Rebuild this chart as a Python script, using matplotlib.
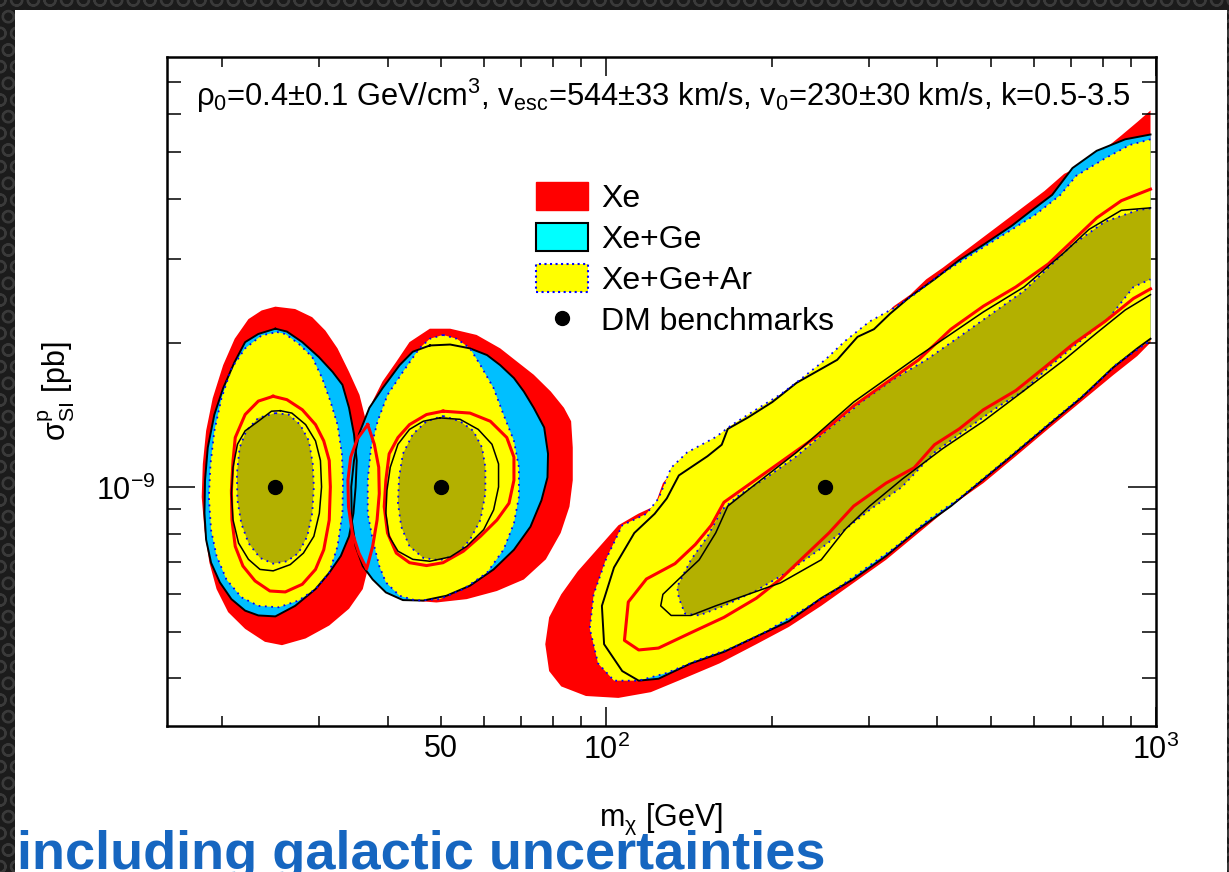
import numpy as np
import matplotlib
matplotlib.use("Agg")
import matplotlib.pyplot as plt
from matplotlib.patches import Patch, Rectangle
from matplotlib.lines import Line2D

plt.rcParams["font.family"] = ["Liberation Sans", "DejaVu Sans"]
plt.rcParams["mathtext.default"] = "regular"
plt.rcParams["hatch.linewidth"] = 1.5

# Contour vertices, as (log10 m / GeV, log10 sigma / pb).
# Benchmark 25 GeV
xe_out_25 = [(1.398, -8.623), (1.434, -8.628), (1.465, -8.645), (1.489, -8.673), (1.511, -8.710),
             (1.532, -8.759), (1.551, -8.807), (1.563, -8.862), (1.568, -8.930), (1.569, -9.020),
             (1.569, -9.109), (1.566, -9.171), (1.557, -9.212), (1.532, -9.253), (1.496, -9.288),
             (1.453, -9.315), (1.410, -9.329), (1.379, -9.322), (1.343, -9.295), (1.312, -9.260),
             (1.291, -9.212), (1.278, -9.157), (1.269, -9.089), (1.264, -9.020), (1.266, -8.951),
             (1.272, -8.882), (1.284, -8.814), (1.303, -8.745), (1.324, -8.690), (1.349, -8.649),
             (1.373, -8.631)]
xege_out_25 = [(1.398, -8.669), (1.419, -8.675), (1.447, -8.697), (1.477, -8.728), (1.502, -8.759),
               (1.520, -8.786), (1.532, -8.834), (1.541, -8.889), (1.546, -8.944), (1.544, -8.999),
               (1.540, -9.054), (1.532, -9.102), (1.517, -9.143), (1.496, -9.178), (1.471, -9.212),
               (1.434, -9.247), (1.398, -9.269), (1.367, -9.267), (1.343, -9.257), (1.318, -9.233),
               (1.297, -9.198), (1.281, -9.157), (1.272, -9.109), (1.269, -9.054), (1.270, -8.985),
               (1.275, -8.917), (1.287, -8.848), (1.303, -8.793), (1.324, -8.738), (1.343, -8.697),
               (1.367, -8.680)]
xegear_out_25 = [(1.401, -8.676), (1.416, -8.680), (1.440, -8.700), (1.465, -8.728), (1.483, -8.772),
                 (1.498, -8.820), (1.511, -8.869), (1.519, -8.930), (1.521, -8.985), (1.520, -9.054),
                 (1.511, -9.123), (1.496, -9.178), (1.471, -9.212), (1.440, -9.236), (1.404, -9.250),
                 (1.367, -9.247), (1.336, -9.229), (1.309, -9.192), (1.291, -9.143), (1.281, -9.089),
                 (1.277, -9.020), (1.280, -8.951), (1.287, -8.882), (1.300, -8.814), (1.318, -8.752),
                 (1.343, -8.710), (1.373, -8.683)]
xegear_in_25 = [(1.398, -8.845), (1.422, -8.848), (1.443, -8.869), (1.459, -8.903), (1.466, -8.951),
                (1.468, -8.999), (1.465, -9.054), (1.456, -9.102), (1.440, -9.137), (1.419, -9.154),
                (1.394, -9.159), (1.370, -9.147), (1.349, -9.116), (1.336, -9.075), (1.329, -9.027),
                (1.328, -8.972), (1.333, -8.917), (1.345, -8.882), (1.367, -8.855)]
xe_in_25 = [(1.394, -8.810), (1.419, -8.817), (1.447, -8.838), (1.471, -8.869), (1.486, -8.903),
            (1.496, -8.944), (1.498, -8.999), (1.496, -9.068), (1.486, -9.130), (1.471, -9.171),
            (1.447, -9.202), (1.416, -9.218), (1.388, -9.216), (1.361, -9.195), (1.339, -9.164),
            (1.325, -9.123), (1.319, -9.068), (1.318, -9.006), (1.321, -8.944), (1.325, -8.896),
            (1.343, -8.848), (1.367, -8.820)]
xege_in_25 = [(1.407, -8.840), (1.428, -8.845), (1.453, -8.869), (1.471, -8.903), (1.480, -8.944),
              (1.482, -8.999), (1.478, -9.054), (1.468, -9.102), (1.449, -9.137), (1.425, -9.161),
              (1.394, -9.174), (1.370, -9.171), (1.349, -9.150), (1.331, -9.116), (1.321, -9.068),
              (1.318, -9.013), (1.321, -8.958), (1.329, -8.910), (1.343, -8.882), (1.367, -8.862),
              (1.391, -8.841)]

# Benchmark 50 GeV
xe_out_50 = [(1.679, -8.669), (1.716, -8.669), (1.764, -8.682), (1.807, -8.710), (1.838, -8.738),
             (1.868, -8.765), (1.899, -8.800), (1.923, -8.834), (1.936, -8.862), (1.939, -8.917),
             (1.939, -8.985), (1.933, -9.040), (1.917, -9.095), (1.890, -9.150), (1.850, -9.192),
             (1.801, -9.216), (1.746, -9.233), (1.691, -9.240), (1.648, -9.236), (1.612, -9.226),
             (1.581, -9.198), (1.563, -9.171), (1.557, -9.123), (1.557, -9.054), (1.557, -8.985),
             (1.560, -8.917), (1.563, -8.862), (1.575, -8.820), (1.593, -8.779), (1.618, -8.738),
             (1.642, -8.697)]
xege_out_50 = [(1.679, -8.704), (1.716, -8.702), (1.752, -8.710), (1.783, -8.724), (1.807, -8.745),
               (1.832, -8.772), (1.850, -8.800), (1.868, -8.834), (1.887, -8.875), (1.894, -8.930),
               (1.893, -8.979), (1.882, -9.027), (1.862, -9.082), (1.832, -9.130), (1.795, -9.171),
               (1.752, -9.205), (1.709, -9.226), (1.667, -9.236), (1.630, -9.235), (1.599, -9.219),
               (1.575, -9.192), (1.557, -9.164), (1.544, -9.123), (1.537, -9.068), (1.536, -8.999),
               (1.541, -8.944), (1.550, -8.889), (1.569, -8.834), (1.593, -8.793), (1.624, -8.745),
               (1.648, -8.717)]
xegear_out_50 = [(1.703, -8.682), (1.728, -8.690), (1.752, -8.710), (1.771, -8.745), (1.795, -8.793),
                 (1.813, -8.848), (1.832, -8.903), (1.841, -8.958), (1.841, -9.020), (1.832, -9.075),
                 (1.813, -9.130), (1.783, -9.178), (1.740, -9.212), (1.697, -9.233), (1.654, -9.236),
                 (1.624, -9.226), (1.599, -9.198), (1.587, -9.164), (1.575, -9.109), (1.566, -9.054),
                 (1.566, -8.985), (1.572, -8.917), (1.584, -8.862), (1.602, -8.807), (1.630, -8.759),
                 (1.660, -8.710), (1.679, -8.690)]
xegear_in_50 = [(1.703, -8.851), (1.734, -8.862), (1.758, -8.882), (1.774, -8.917), (1.780, -8.958),
                (1.780, -9.013), (1.771, -9.068), (1.752, -9.109), (1.728, -9.140), (1.697, -9.152),
                (1.667, -9.147), (1.642, -9.123), (1.627, -9.082), (1.621, -9.033), (1.623, -8.979),
                (1.630, -8.930), (1.648, -8.889), (1.673, -8.862)]
xe_in_50 = [(1.703, -8.841), (1.752, -8.845), (1.789, -8.862), (1.819, -8.896), (1.832, -8.937),
            (1.832, -8.985), (1.823, -9.033), (1.801, -9.068), (1.771, -9.102), (1.740, -9.133),
            (1.703, -9.157), (1.673, -9.163), (1.642, -9.157), (1.618, -9.137), (1.602, -9.095),
            (1.596, -9.040), (1.599, -8.985), (1.605, -8.930), (1.621, -8.896), (1.642, -8.869),
            (1.673, -8.848)]
xege_in_50 = [(1.697, -8.855), (1.734, -8.858), (1.767, -8.879), (1.792, -8.910), (1.804, -8.951),
              (1.804, -8.999), (1.795, -9.047), (1.777, -9.088), (1.746, -9.123), (1.716, -9.145),
              (1.679, -9.154), (1.648, -9.150), (1.621, -9.133), (1.605, -9.102), (1.599, -9.054),
              (1.601, -9.006), (1.607, -8.958), (1.621, -8.910), (1.642, -8.879), (1.667, -8.862)]
# small Xe island between the two light benchmarks
xe_in_lens = [(1.566, -8.869), (1.578, -8.910), (1.586, -8.958), (1.587, -9.013), (1.583, -9.068),
              (1.575, -9.123), (1.564, -9.170), (1.550, -9.137), (1.538, -9.095), (1.531, -9.040),
              (1.530, -8.985), (1.535, -8.937), (1.547, -8.899)]

# Benchmark 250 GeV (scan stops just below 1 TeV)
xe_out_250 = [(2.990, -8.214), (2.966, -8.238), (2.937, -8.266), (2.907, -8.294), (2.870, -8.326),
              (2.833, -8.346), (2.797, -8.382), (2.760, -8.414), (2.723, -8.446), (2.686, -8.478),
              (2.649, -8.510), (2.612, -8.542), (2.582, -8.566), (2.553, -8.598), (2.523, -8.622),
              (2.487, -8.662), (2.450, -8.694), (2.405, -8.734), (2.368, -8.774), (2.332, -8.814),
              (2.287, -8.846), (2.243, -8.874), (2.206, -8.895), (2.169, -8.919), (2.132, -8.951),
              (2.103, -8.991), (2.088, -9.039), (2.058, -9.055), (2.022, -9.079), (1.985, -9.127),
              (1.948, -9.175), (1.918, -9.223), (1.896, -9.271), (1.889, -9.327), (1.896, -9.383),
              (1.918, -9.415), (1.963, -9.435), (2.022, -9.439), (2.081, -9.427), (2.140, -9.399),
              (2.206, -9.367), (2.273, -9.327), (2.332, -9.291), (2.391, -9.247), (2.450, -9.199),
              (2.509, -9.151), (2.568, -9.095), (2.627, -9.039), (2.686, -8.991), (2.745, -8.935),
              (2.804, -8.878), (2.863, -8.822), (2.922, -8.766), (2.966, -8.726), (2.990, -8.698)]
xege_out_250 = [(2.990, -8.264), (2.944, -8.274), (2.892, -8.298), (2.848, -8.334), (2.811, -8.390),
                (2.774, -8.422), (2.738, -8.454), (2.686, -8.494), (2.642, -8.526), (2.597, -8.566),
                (2.553, -8.602), (2.516, -8.638), (2.487, -8.670), (2.457, -8.686), (2.420, -8.734),
                (2.383, -8.758), (2.346, -8.782), (2.302, -8.822), (2.258, -8.854), (2.221, -8.878),
                (2.210, -8.911), (2.184, -8.935), (2.132, -8.975), (2.110, -9.023), (2.088, -9.055),
                (2.051, -9.095), (2.014, -9.167), (1.992, -9.247), (1.996, -9.327), (2.029, -9.383),
                (2.059, -9.403), (2.095, -9.399), (2.154, -9.367), (2.214, -9.343), (2.273, -9.311),
                (2.332, -9.279), (2.391, -9.231), (2.450, -9.191), (2.509, -9.143), (2.568, -9.087),
                (2.627, -9.039), (2.686, -8.983), (2.745, -8.927), (2.804, -8.870), (2.863, -8.814),
                (2.922, -8.750), (2.966, -8.710), (2.990, -8.690)]
xegear_out_250 = [(2.990, -8.274), (2.952, -8.286), (2.907, -8.314), (2.855, -8.350), (2.826, -8.390),
                  (2.782, -8.430), (2.738, -8.462), (2.693, -8.494), (2.649, -8.526), (2.605, -8.558),
                  (2.560, -8.598), (2.523, -8.626), (2.479, -8.654), (2.435, -8.694), (2.398, -8.734),
                  (2.354, -8.774), (2.317, -8.806), (2.272, -8.838), (2.228, -8.870), (2.199, -8.895),
                  (2.147, -8.927), (2.118, -8.959), (2.095, -9.023), (2.073, -9.055), (2.029, -9.079),
                  (1.999, -9.151), (1.977, -9.223), (1.970, -9.295), (1.985, -9.367), (2.014, -9.403),
                  (2.059, -9.403), (2.110, -9.387), (2.169, -9.359), (2.228, -9.335), (2.287, -9.303),
                  (2.346, -9.263), (2.405, -9.223), (2.464, -9.175), (2.523, -9.127), (2.582, -9.071),
                  (2.642, -9.023), (2.701, -8.967), (2.760, -8.911), (2.819, -8.854), (2.878, -8.798),
                  (2.929, -8.742), (2.974, -8.706), (2.990, -8.694)]
xegear_in_250 = [(2.990, -8.418), (2.966, -8.422), (2.907, -8.446), (2.848, -8.494), (2.804, -8.542),
                 (2.760, -8.590), (2.701, -8.638), (2.642, -8.686), (2.582, -8.734), (2.523, -8.774),
                 (2.464, -8.822), (2.405, -8.878), (2.346, -8.935), (2.287, -8.983), (2.243, -9.015),
                 (2.210, -9.047), (2.184, -9.103), (2.154, -9.151), (2.129, -9.207), (2.132, -9.231),
                 (2.143, -9.263), (2.169, -9.267), (2.214, -9.247), (2.273, -9.215), (2.332, -9.175),
                 (2.391, -9.127), (2.435, -9.087), (2.479, -9.047), (2.538, -8.999), (2.597, -8.927),
                 (2.656, -8.878), (2.715, -8.830), (2.760, -8.798), (2.804, -8.750), (2.863, -8.694),
                 (2.915, -8.646), (2.959, -8.582), (2.990, -8.566)]
xe_in_250 = [(2.990, -8.378), (2.937, -8.402), (2.892, -8.438), (2.848, -8.486), (2.804, -8.534),
             (2.745, -8.582), (2.686, -8.622), (2.627, -8.670), (2.568, -8.734), (2.509, -8.782),
             (2.450, -8.830), (2.391, -8.887), (2.332, -8.935), (2.273, -8.983), (2.214, -9.031),
             (2.191, -9.079), (2.162, -9.119), (2.125, -9.159), (2.073, -9.191), (2.040, -9.239),
             (2.033, -9.319), (2.059, -9.339), (2.095, -9.335), (2.154, -9.303), (2.214, -9.271),
             (2.273, -9.231), (2.317, -9.191), (2.361, -9.143), (2.405, -9.095), (2.450, -9.039),
             (2.509, -8.991), (2.560, -8.959), (2.597, -8.911), (2.642, -8.878), (2.686, -8.838),
             (2.745, -8.798), (2.797, -8.750), (2.848, -8.702), (2.907, -8.654), (2.959, -8.606),
             (2.990, -8.586)]
xege_in_250 = [(2.990, -8.417), (2.937, -8.422), (2.878, -8.462), (2.833, -8.510), (2.760, -8.582),
               (2.686, -8.634), (2.568, -8.726), (2.450, -8.822), (2.346, -8.927), (2.265, -8.999),
               (2.221, -9.039), (2.199, -9.095), (2.169, -9.151), (2.132, -9.191), (2.103, -9.223),
               (2.099, -9.247), (2.118, -9.267), (2.154, -9.267), (2.199, -9.247), (2.258, -9.223),
               (2.317, -9.199), (2.391, -9.151), (2.435, -9.087), (2.479, -9.039), (2.538, -8.983),
               (2.612, -8.919), (2.686, -8.862), (2.760, -8.798), (2.833, -8.734), (2.892, -8.678),
               (2.944, -8.630), (2.990, -8.598)]

bench_mass = [25, 50, 250]          # GeV
bench_sigma = [1e-9, 1e-9, 1e-9]    # pb

legend_labels = ["Xe", "Xe+Ge", "Xe+Ge+Ar", "DM benchmarks"]
header = "ρ$_0$=0.4±0.1 GeV/cm$^3$, v$_{esc}$=544±33 km/s, v$_0$=230±30 km/s, k=0.5-3.5"

x_major = [100, 1000]
x_major_labels = ["$10^{2}$", "$10^{3}$"]
x_minor = [20, 30, 40, 50, 60, 70, 80, 90, 200, 300, 400, 500, 600, 700, 800, 900]
x_minor_labels = ["", "", "", "50", "", "", "", "", "", "", "", "", "", "", "", ""]
y_major = [1e-9]
y_major_labels = ["$10^{-9}$"]
y_minor = [4e-10, 5e-10, 6e-10, 7e-10, 8e-10, 9e-10, 2e-9, 3e-9, 4e-9, 5e-9, 6e-9, 7e-9]

RED = "#ff0000"
SKY = "#00bfff"
YEL = "#ffff00"
OLIVE = "#b3b000"


def xy(c):
    a = np.asarray(c, dtype=float)
    return 10 ** a[:, 0], 10 ** a[:, 1]


def line_xy(c):
    x, y = xy(c)
    # closed loops, except the band cut by the end of the scan at high mass
    if c[0][0] < 2.98:
        x = np.append(x, x[0])
        y = np.append(y, y[0])
    return x, y


fig = plt.figure(figsize=(12.29, 8.72), dpi=100)
fig.patch.set_facecolor("#1b1b1b")
fig.patches.append(Rectangle((0, 0), 1, 1, transform=fig.transFigure, facecolor="#1b1b1b",
                             edgecolor="#3a3a3a", hatch="O", lw=0, zorder=-3))
fig.patches.append(Rectangle((15 / 1229, 0), 1212 / 1229, 1 - 10 / 872, transform=fig.transFigure,
                             facecolor="white", edgecolor="none", zorder=-2))

ax = fig.add_axes([166.7 / 1229, 1 - 726 / 872, 989.3 / 1229, 669 / 872])
ax.set_xscale("log")
ax.set_yscale("log")

# filled regions
for c in [xe_out_25, xe_out_50, xe_out_250]:
    ax.fill(*xy(c), color=RED, lw=0, zorder=1)
for c in [xege_out_25, xege_out_50, xege_out_250]:
    ax.fill(*xy(c), color=SKY, lw=0, zorder=2)
for c in [xegear_out_25, xegear_out_50, xegear_out_250]:
    ax.fill(*xy(c), color=YEL, lw=0, zorder=3)
for c in [xegear_in_25, xegear_in_50, xegear_in_250]:
    ax.fill(*xy(c), color=OLIVE, lw=0, zorder=4)

# contour lines
for c in [xege_out_25, xege_out_50, xege_out_250]:
    ax.plot(*line_xy(c), color="black", lw=1.4, zorder=5)
for c in [xegear_out_25, xegear_out_50, xegear_out_250, xegear_in_25, xegear_in_50, xegear_in_250]:
    ax.plot(*line_xy(c), color="blue", lw=1.3, ls=(0, (1, 2.5)), zorder=6)
for c in [xe_in_25, xe_in_50, xe_in_lens, xe_in_250]:
    ax.plot(*line_xy(c), color=RED, lw=2.2, zorder=7)
for c in [xege_in_25, xege_in_50, xege_in_250]:
    ax.plot(*line_xy(c), color="black", lw=1.1, zorder=8)

ax.plot(bench_mass, bench_sigma, "o", color="black", markersize=10, zorder=9)

ax.set_xlim(15.86, 1000)
ax.set_ylim(3.18e-10, 7.9e-9)

ax.set_xticks(x_major, labels=x_major_labels)
ax.set_xticks(x_minor, labels=x_minor_labels, minor=True)
ax.set_yticks(y_major, labels=y_major_labels)
ax.set_yticks(y_minor, labels=[""] * len(y_minor), minor=True)

ax.tick_params(axis="x", which="major", direction="in", length=14, width=1.1,
               top=True, bottom=True, labelsize=22, pad=6)
ax.tick_params(axis="x", which="minor", direction="in", length=7, width=1.1,
               top=True, bottom=True, labelsize=22, pad=6)
ax.tick_params(axis="y", which="major", direction="in", length=20, width=1.1,
               left=True, right=True, labelsize=22, pad=8)
ax.tick_params(axis="y", which="minor", direction="in", length=10, width=1.1,
               left=True, right=True)
for s in ax.spines.values():
    s.set_linewidth(1.8)

ax.set_xlabel("m$_χ$ [GeV]", fontsize=22)
ax.xaxis.set_label_coords(0.5, -0.113)
ax.set_ylabel("σ$^p_{SI}$ [pb]", fontsize=22)
ax.yaxis.set_label_coords(-0.0907, 0.5)

ax.text(0.0296, 0.9268, header, transform=ax.transAxes, fontsize=22.2, ha="left", va="baseline")

handles = [
    Patch(facecolor=RED, edgecolor=RED),
    Patch(facecolor="cyan", edgecolor="black", linewidth=1.5),
    Patch(facecolor=YEL, edgecolor="blue", linestyle=":", linewidth=1.5),
    Line2D([], [], ls="none", marker="o", color="black", markersize=10),
]
ax.legend(handles, legend_labels, loc="upper left", bbox_to_anchor=(0.3733, 0.8131),
          frameon=False, fontsize=23, handlelength=1.63, handleheight=0.97,
          handletextpad=0.42, labelspacing=0.285, borderpad=0, borderaxespad=0)

fig.text(17 / 1229, 1 - 869 / 872, "including galactic uncertainties", fontsize=39,
         fontweight="bold", color="#1666c0", ha="left", va="baseline")

fig.savefig("out.png", dpi=100, facecolor=fig.get_facecolor())
